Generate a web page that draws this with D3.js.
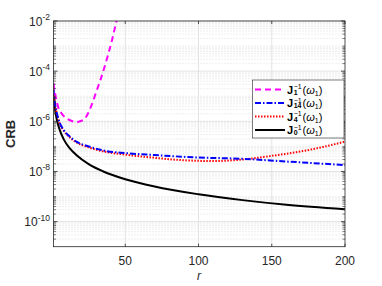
<!DOCTYPE html>
<html>
<head>
<meta charset="utf-8">
<script src="https://cdn.jsdelivr.net/npm/d3@7"></script>
<style>
  body { margin: 0; background: #fff; }
  text { font-family: "Liberation Sans", Arial, sans-serif; fill: #262626; }
</style>
</head>
<body>
<div id="chart"></div>
<script>
const width = 382
const height = 286

// values
const rJ1 = [1, 2, 4, 7, 10, 14, 17, 20, 22, 24, 26, 28, 30, 33, 37, 41, 44, 46]
const crbJ1 = [3.3e-5, 1.4e-5, 4.0e-6, 1.9e-6, 1.3e-6, 1.0e-6, 9.3e-7, 1.05e-6, 1.2e-6, 1.8e-6, 3.2e-6, 6.3e-6, 1.4e-5, 4.4e-5, 2.5e-4, 1.8e-3, 1.0e-2, 3.2e-2]

const rJ14 = [1, 2, 3, 5, 8, 12, 17, 25, 35, 50, 70, 100, 130, 160, 200]
const crbJ14 = [1.9e-5, 5.0e-6, 2.5e-6, 9.5e-7, 4.5e-7, 2.5e-7, 1.5e-7, 1.0e-7, 6.9e-8, 5.4e-8, 4.5e-8, 3.6e-8, 3.2e-8, 2.5e-8, 1.8e-8]

const rJ4 = [1, 2, 3, 5, 8, 12, 17, 25, 35, 50, 70, 90, 110, 130, 150, 170, 185, 200]
const crbJ4 = [1.8e-5, 4.8e-6, 2.4e-6, 8.9e-7, 4.2e-7, 2.3e-7, 1.4e-7, 9.1e-8, 6.3e-8, 4.7e-8, 3.5e-8, 2.8e-8, 2.6e-8, 3.0e-8, 4.2e-8, 6.3e-8, 9.5e-8, 1.55e-7]

const rJ0 = [1, 2, 3, 5, 8, 12, 17, 25, 35, 50, 70, 100, 130, 160, 200]
const crbJ0 = [1.26e-5, 3.16e-6, 1.38e-6, 5.0e-7, 1.9e-7, 8.5e-8, 4.3e-8, 1.95e-8, 1.0e-8, 4.9e-9, 2.5e-9, 1.23e-9, 7.2e-10, 4.7e-10, 3.1e-10]

const xTicks = [50, 100, 150, 200]
const yTickExps = [-2, -4, -6, -8, -10]

const series = [
  { sub: "1", r: rJ1, v: crbJ1, color: "#ff00ff", dash: "6,4" },
  { sub: "14", r: rJ14, v: crbJ14, color: "#0000ff", dash: "6,2,1.5,2" },
  { sub: "4", r: rJ4, v: crbJ4, color: "#ff0000", dash: "1.5,1.5" },
  { sub: "0", r: rJ0, v: crbJ0, color: "#000000", dash: null }
]

const L = 53.5, R = 345, T = 21, B = 246.7

const svg = d3.select("#chart").append("svg")
  .attr("width", width).attr("height", height)

const x = d3.scaleLinear().domain([1, 200]).range([L, R])
const y = d3.scaleLog().domain([1e-11, 1e-2]).range([B, T])

// grid
const grid = svg.append("g")
const minorY = []
for (let e = -11; e < -2; e++) {
  for (let m = 1; m < 10; m++) {
    const v = m * Math.pow(10, e)
    if (m === 1 && yTickExps.includes(e)) continue
    if (v > 1e-11 && v < 1e-2) minorY.push(v)
  }
}
grid.selectAll(".ym").data(minorY).enter().append("line")
  .attr("x1", L).attr("x2", R)
  .attr("y1", d => y(d)).attr("y2", d => y(d))
  .attr("stroke", "#d8d8d8").attr("stroke-width", 0.8)
  .attr("stroke-dasharray", "1,2")
grid.selectAll(".yM").data(yTickExps).enter().append("line")
  .attr("x1", L).attr("x2", R)
  .attr("y1", d => y(Math.pow(10, d))).attr("y2", d => y(Math.pow(10, d)))
  .attr("stroke", "#e3e3e3").attr("stroke-width", 1)
grid.selectAll(".xM").data(xTicks.slice(0, 3)).enter().append("line")
  .attr("y1", T).attr("y2", B)
  .attr("x1", d => x(d)).attr("x2", d => x(d))
  .attr("stroke", "#e3e3e3").attr("stroke-width", 1)

// curves
svg.append("clipPath").attr("id", "clip").append("rect")
  .attr("x", L).attr("y", T).attr("width", R - L).attr("height", B - T)

const line = d3.line()
  .x(d => x(d[0]))
  .y(d => y(d[1]))
  .curve(d3.curveMonotoneX)

const plot = svg.append("g").attr("clip-path", "url(#clip)")
series.slice().reverse().forEach(s => {
  plot.append("path")
    .datum(d3.zip(s.r, s.v))
    .attr("d", line)
    .attr("fill", "none")
    .attr("stroke", s.color)
    .attr("stroke-width", 2)
    .attr("stroke-dasharray", s.dash)
})

// axes box
const ax = svg.append("g")
ax.append("rect").attr("x", L).attr("y", T).attr("width", R - L).attr("height", B - T)
  .attr("fill", "none").attr("stroke", "#262626").attr("stroke-width", 0.8)

// y ticks (inner) and minor ticks on both sides
ax.selectAll(".ytm").data(minorY).enter().append("path")
  .attr("d", d => `M${L},${y(d)}h2.5M${R},${y(d)}h-2.5`)
  .attr("stroke", "#262626").attr("stroke-width", 0.6)
ax.selectAll(".ytM").data(yTickExps).enter().append("path")
  .attr("d", d => `M${L},${y(Math.pow(10, d))}h4M${R},${y(Math.pow(10, d))}h-4`)
  .attr("stroke", "#262626").attr("stroke-width", 0.8)
ax.selectAll(".xt").data(xTicks).enter().append("path")
  .attr("d", d => `M${x(d)},${B}v-3M${x(d)},${T}v3`)
  .attr("stroke", "#262626").attr("stroke-width", 0.8)

// tick labels
ax.selectAll(".xl").data(xTicks).enter().append("text")
  .attr("x", d => x(d)).attr("y", 265)
  .attr("text-anchor", "middle").attr("font-size", 12)
  .text(d => d)

yTickExps.forEach(e => {
  const t = ax.append("text")
    .attr("x", 50).attr("y", y(Math.pow(10, e)) + 4.5)
    .attr("text-anchor", "end").attr("font-size", 12)
  t.append("tspan").text("10")
  t.append("tspan").attr("font-size", 8.5).attr("dy", -5.5).text(e)
})

// axis titles
svg.append("text").attr("x", 199).attr("y", 280)
  .attr("text-anchor", "middle").attr("font-size", 12)
  .attr("font-style", "italic").attr("font-family", "Liberation Serif, serif")
  .text("r")
svg.append("text")
  .attr("transform", `translate(15,${(T + B) / 2}) rotate(-90)`)
  .attr("text-anchor", "middle").attr("font-size", 13)
  .attr("font-weight", "bold")
  .text("CRB")

// legend
const lg = svg.append("g")
lg.append("rect").attr("x", 252.5).attr("y", 80).attr("width", 91.5).attr("height", 58)
  .attr("fill", "#fff").attr("stroke", "#262626").attr("stroke-width", 0.6)
const rowY = [89.5, 103, 116.5, 130]
const serif = "Liberation Serif, DejaVu Serif, serif"
series.forEach((s, i) => {
  const yy = rowY[i]
  lg.append("line").attr("x1", 255).attr("x2", 285).attr("y1", yy).attr("y2", yy)
    .attr("stroke", s.color).attr("stroke-width", 2).attr("stroke-dasharray", s.dash)
  const t = lg.append("text").attr("x", 287).attr("y", yy + 4)
    .attr("font-family", serif).attr("font-size", 11).style("fill", "#000")
  const j = t.append("tspan").attr("font-weight", "bold").text("J")
  const jx = 287 + j.node().getComputedTextLength() + 0.5
  const sup = t.append("tspan").attr("x", jx).attr("y", yy - 0.5)
    .attr("font-size", 7).text("\u22121")
  const sub = t.append("tspan").attr("x", jx).attr("y", yy + 5)
    .attr("font-size", 7).attr("font-weight", "bold").text(s.sub)
  const w = Math.max(sup.node().getComputedTextLength(), sub.node().getComputedTextLength())
  t.append("tspan").attr("x", jx + w + 1).attr("y", yy + 4).text("(")
  t.append("tspan").attr("font-style", "italic").text("\u03c9")
  t.append("tspan").attr("font-size", 7).attr("y", yy + 6).text("1")
  t.append("tspan").attr("y", yy + 4).text(")")
})
</script>
</body>
</html>
